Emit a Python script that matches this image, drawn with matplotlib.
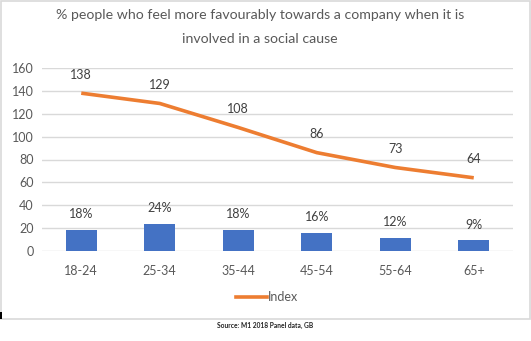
import matplotlib
matplotlib.use("Agg")
import matplotlib.pyplot as plt
from matplotlib.patches import Rectangle
from matplotlib.lines import Line2D
import numpy as np

categories = ["18-24", "25-34", "35-44", "45-54", "55-64", "65+"]
pct_values = [18.4, 23.9, 18.4, 16.0, 11.6, 9.4]
pct_labels = ["18%", "24%", "18%", "16%", "12%", "9%"]
index_values = [138, 129, 108, 86, 73, 64]
yticks = [0, 20, 40, 60, 80, 100, 120, 140, 160]

W, H = 531, 341
plt.rcParams['font.family'] = ['Lato', 'DejaVu Sans']
fig = plt.figure(figsize=(W / 100, H / 100), dpi=100)
fig.patch.set_facecolor("white")

# outer border
fig.patches.append(Rectangle((1 / W, 1 - 319 / H), 529 / W, 318 / H, transform=fig.transFigure,
                             fill=False, edgecolor="#D9D9D9", linewidth=1.2))
fig.patches.append(Rectangle((0, 1 - 319 / H), 2 / W, 7 / H, transform=fig.transFigure,
                             fill=True, facecolor="black", edgecolor="none"))

left, right = 42 / W, 513 / W
bottom, top = 1 - 251 / H, 1 - 68 / H
ax = fig.add_axes([left, bottom, right - left, top - bottom])

x = np.arange(len(categories))
ax.set_xlim(-0.5, len(categories) - 0.5)
ax.set_ylim(0, 160)
ax.set_yticks(yticks)
ax.yaxis.grid(True, color="#D9D9D9", linewidth=1)
ax.set_axisbelow(True)
for s in ax.spines.values():
    s.set_visible(False)

gray = "#595959"
ax.bar(x, pct_values, width=0.39, color="#4472C4", zorder=2)
ax.plot(x, index_values, color="#ED7D31", linewidth=2.6, zorder=3, solid_capstyle="butt")

for xi, v, lab in zip(x, pct_values, pct_labels):
    ax.annotate(lab, (xi, v), xytext=(0, 7), textcoords="offset points",
                ha="center", va="bottom", fontsize=9, color="#404040")
for xi, v in zip(x, index_values):
    ax.annotate(str(v), (xi, v), xytext=(0, 9), textcoords="offset points",
                ha="center", va="bottom", fontsize=9, color="#404040")

ax.set_xticks(x)
ax.set_xticklabels(categories, fontsize=9, color=gray)
ax.tick_params(axis="both", length=0, labelsize=9, colors=gray)
ax.tick_params(axis="x", pad=10)
ax.tick_params(axis="y", pad=6)

fig.text(0.49, 1 - 15 / H, "% people who feel more favourably towards a company when it is",
         ha="center", va="center", fontsize=10.2, color=gray)
fig.text(0.49, 1 - 39 / H, "involved in a social cause",
         ha="center", va="center", fontsize=10.2, color=gray)

# legend
fig.lines.append(Line2D([236 / W, 267 / W], [1 - 297 / H, 1 - 297 / H], transform=fig.transFigure,
                        color="#ED7D31", linewidth=2.6))
fig.text(268 / W, 1 - 297 / H, "Index", ha="left", va="center", fontsize=9, color=gray)

fig.text(265 / W, 1 - 325 / H, "Source: M1 2018 Panel data, GB", ha="center", va="center",
         fontsize=4.8, color="#222222", fontweight="bold")

fig.savefig("out.png", dpi=100, facecolor="white")
